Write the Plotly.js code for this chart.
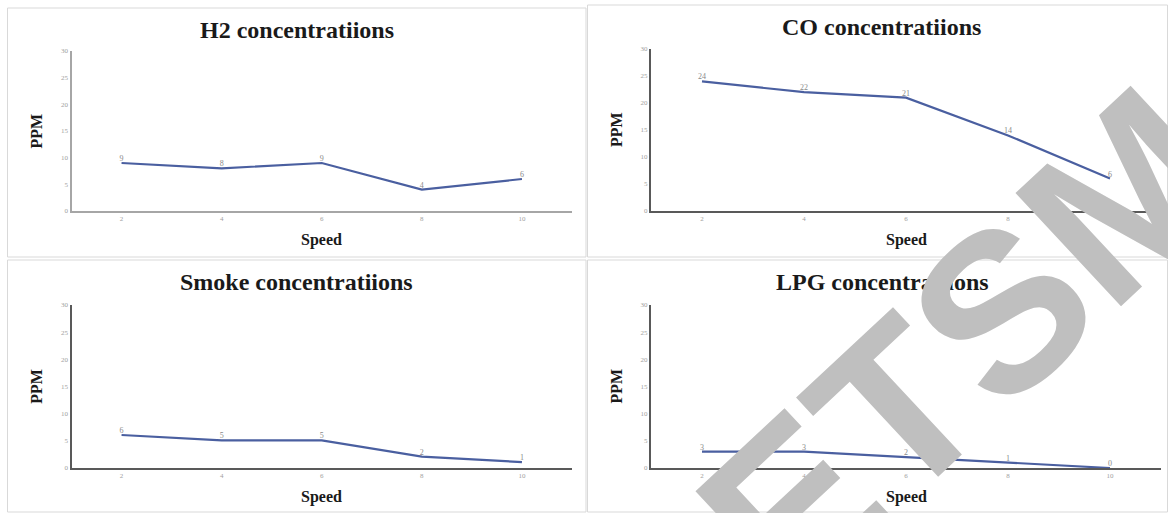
<!DOCTYPE html>
<html>
<head>
<meta charset="utf-8">
<script src="https://cdn.plot.ly/plotly-3.0.1.min.js"></script>
<style>html,body{margin:0;padding:0;background:#fff;}#chart{width:1168px;height:513px;}</style>
</head>
<body>
<div id="chart"></div>
<script>
const speeds = [2, 4, 6, 8, 10];
const speedLabels = ['2', '4', '6', '8', '10'];
const h2Values = [9, 8, 9, 4, 6];
const coValues = [24, 22, 21, 14, 6];
const smokeValues = [6, 5, 5, 2, 1];
const lpgValues = [3, 3, 2, 1, 0];
const yTicks = [0, 5, 10, 15, 20, 25, 30];
const panelTitles = ['H2 concentratiions', 'CO concentratiions', 'Smoke concentratiions', 'LPG concentratiions'];
const xTitle = 'Speed';
const yTitle = 'PPM';
const watermark = 'ETSM';

const W = 1168, H = 513;
const px = v => v / W;
const py = v => 1 - v / H;

const series = [h2Values, coValues, smokeValues, lpgValues];
const panels = [
  {x0: 71.5, x1: 572, yb: 211, yt: 51, box: [7.5, 8, 586, 257], tx: 297, ty: 30, axc: '#a6a6a6'},
  {x0: 651, x1: 1161, yb: 211, yt: 49, box: [587.5, 5, 1167.5, 257], tx: 881, ty: 27, axc: '#595959'},
  {x0: 71.5, x1: 572, yb: 467.5, yt: 305, box: [7.5, 260, 586, 512], tx: 296, ty: 282, axc: '#595959'},
  {x0: 651, x1: 1161, yb: 468, yt: 305, box: [587.5, 260, 1167.5, 512], tx: 882, ty: 282, axc: '#595959'}
];

const data = [];
const layout = {
  width: W, height: H,
  margin: {l: 0, r: 0, t: 0, b: 0},
  paper_bgcolor: '#fff', plot_bgcolor: 'rgba(0,0,0,0)',
  showlegend: false,
  shapes: [], annotations: []
};

panels.forEach((p, i) => {
  const n = i === 0 ? '' : String(i + 1);
  data.push({
    x: speeds, y: series[i],
    xaxis: 'x' + n, yaxis: 'y' + n,
    type: 'scatter', mode: 'lines+text',
    line: {color: '#4a5fa0', width: 2.2},
    text: series[i].map(String),
    textposition: 'top center',
    textfont: {family: 'Liberation Serif', size: 8, color: '#8a8a8a'},
    hoverinfo: 'skip'
  });
  layout['xaxis' + n] = {
    domain: [px(p.x0), px(p.x1)],
    anchor: 'y' + n,
    range: [1, 11],
    tickvals: speeds, ticktext: speedLabels,
    showgrid: false, zeroline: false,
    showline: true, linecolor: p.axc, linewidth: 2,
    ticks: '', ticklen: 0,
    tickfont: {family: 'Liberation Serif', size: 7, color: '#a0a0a0'},
    fixedrange: true
  };
  layout['yaxis' + n] = {
    domain: [py(p.yb), py(p.yt)],
    anchor: 'x' + n,
    range: [0, 30],
    tickvals: yTicks,
    showgrid: false, zeroline: false,
    showline: true, linecolor: p.axc, linewidth: 2,
    ticks: '', ticklen: 0,
    tickfont: {family: 'Liberation Serif', size: 7, color: '#a0a0a0'},
    fixedrange: true
  };
  layout.shapes.push({
    type: 'rect', xref: 'paper', yref: 'paper',
    x0: px(p.box[0]), x1: px(p.box[2]), y0: py(p.box[3]), y1: py(p.box[1]),
    line: {color: '#d9d9d9', width: 1}, fillcolor: 'rgba(0,0,0,0)', layer: 'below'
  });
  layout.annotations.push({
    text: '<b>' + panelTitles[i] + '</b>', xref: 'paper', yref: 'paper',
    x: px(p.tx), y: py(p.ty), xanchor: 'center', yanchor: 'middle', showarrow: false,
    font: {family: 'Liberation Serif', size: 24, color: '#1a1a1a'}
  });
  layout.annotations.push({
    text: '<b>' + xTitle + '</b>', xref: 'paper', yref: 'paper',
    x: px((p.x0 + p.x1) / 2), y: py(p.yb + 29), xanchor: 'center', yanchor: 'middle', showarrow: false,
    font: {family: 'Liberation Serif', size: 16, color: '#1a1a1a'}
  });
  layout.annotations.push({
    text: '<b>' + yTitle + '</b>', xref: 'paper', yref: 'paper',
    x: px(p.x0 - 35), y: py((p.yb + p.yt) / 2), xanchor: 'center', yanchor: 'middle', showarrow: false,
    textangle: -90,
    font: {family: 'Liberation Serif', size: 16, color: '#1a1a1a'}
  });
});

layout.annotations.push({
  text: '<b>' + watermark + '</b>', xref: 'paper', yref: 'paper',
  x: px(965), y: py(345), xanchor: 'center', yanchor: 'middle', showarrow: false,
  textangle: -43,
  font: {family: 'Liberation Sans', size: 225, color: '#bfbfbf'}
});

Plotly.newPlot('chart', data, layout, {displayModeBar: false, staticPlot: true});
</script>
</body>
</html>
